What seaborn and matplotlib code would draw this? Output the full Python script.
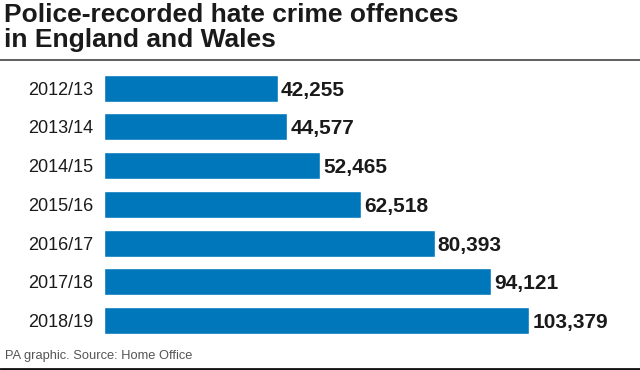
import matplotlib
matplotlib.use('Agg')
import matplotlib.pyplot as plt
import seaborn as sns
import pandas as pd

# data
years = ["2012/13", "2013/14", "2014/15", "2015/16", "2016/17", "2017/18", "2018/19"]
offences = [42255, 44577, 52465, 62518, 80393, 94121, 103379]

df = pd.DataFrame({"year": years, "offences": offences})

sns.set_style("white")
plt.rcParams['font.family'] = ['Liberation Sans', 'DejaVu Sans']

fig = plt.figure(figsize=(6.4, 3.7), dpi=100)
ax = fig.add_axes([0.1625, 0.081, 0.8375, 0.733])

sns.barplot(data=df, x="offences", y="year", color="#0077bb", width=0.7,
            saturation=1, ax=ax)

for i, v in enumerate(offences):
    ax.text(v + 800, i, f"{v:,}", va="center_baseline", ha="left",
            fontsize=15, fontweight="bold", color="#1a1a1a")

ax.set_xlim(0, 130380)
ax.set_xlabel("")
ax.set_ylabel("")
ax.set_xticks([])
ax.tick_params(axis="y", length=0, labelsize=13, pad=8, labelcolor="#1a1a1a")
sns.despine(ax=ax, left=True, bottom=True)

# title, rule and footer
fig.text(0.006, 0.993, "Police-recorded hate crime offences\nin England and Wales",
         ha="left", va="top", fontsize=19, fontweight="bold", color="#1a1a1a",
         linespacing=1.08)
fig.add_artist(plt.Line2D([0, 1], [0.838, 0.838], color="#444444", lw=1.2))
fig.text(0.008, 0.038, "PA graphic. Source: Home Office", ha="left", va="center",
         fontsize=9.3, color="#555555")
fig.add_artist(plt.Line2D([0, 1], [0.003, 0.003], color="#111111", lw=2))

plt.savefig("out.png", dpi=100)
